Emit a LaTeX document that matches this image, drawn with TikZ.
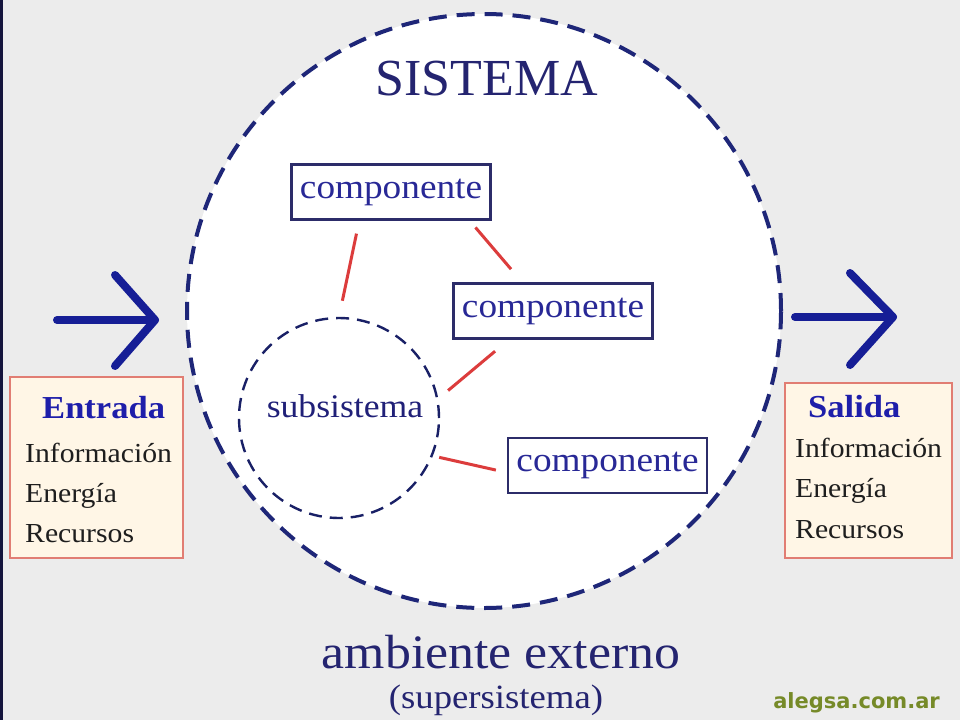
\documentclass[tikz,border=0pt]{standalone}
\usepackage{fontspec}
\setmainfont[FakeStretch=1.08]{Liberation Serif}
\newfontfamily\plainserif{Liberation Serif}
\newfontfamily\wmfont{DejaVu Sans}
\definecolor{bg}{RGB}{236,236,236}
\definecolor{edgecol}{RGB}{20,20,60}
\definecolor{navy}{RGB}{30,38,120}
\definecolor{arrowblue}{RGB}{22,30,150}
\definecolor{titleblue}{RGB}{36,36,112}
\definecolor{compblue}{RGB}{40,40,150}
\definecolor{compedge}{RGB}{44,44,105}
\definecolor{linered}{RGB}{220,60,60}
\definecolor{cream}{RGB}{255,246,230}
\definecolor{salmon}{RGB}{225,125,115}
\definecolor{ioblue}{RGB}{30,30,170}
\definecolor{txtdark}{RGB}{30,30,30}
\definecolor{wmgreen}{RGB}{118,138,40}
\begin{document}
\begin{tikzpicture}[x=1pt,y=-1pt,
  bigcircle/.style={circle,draw=navy,fill=white,line width=4pt,dash pattern=on 18pt off 10pt,minimum size=594pt,inner sep=0pt},
  subcircle/.style={circle,draw=navy!85!black,line width=2.4pt,dash pattern=on 13pt off 8pt,minimum size=200pt,inner sep=0pt},
  compbox/.style={draw=compedge,fill=white,line width=2.2pt,minimum width=199pt,minimum height=55pt,inner sep=0pt,text=compblue,font=\fontsize{34.5}{36}\selectfont},
  iobox/.style={draw=salmon,fill=cream,line width=2.8pt,inner sep=0pt},
  relline/.style={draw=linered,line width=3pt},
  bigarrow/.style={draw=arrowblue,line width=8pt,line cap=round,line join=round},
  iohead/.style={anchor=base west,inner sep=0pt,text=ioblue,font=\fontsize{32}{34}\selectfont\bfseries},
  ioitem/.style={anchor=base west,inner sep=0pt,text=txtdark,font=\fontsize{27.5}{30}\selectfont},
  navytext/.style={inner sep=0pt,text=titleblue}
]
\useasboundingbox (0,0) rectangle (960,720);
\fill[bg] (0,0) rectangle (960,720);
\fill[edgecol] (0,0) rectangle (2.5,720);

% system circle
\node[bigcircle] (sys) at (484,311) {};
\node[navytext,anchor=base,font=\plainserif\fontsize{52}{54}\selectfont] (title) at (487,95) {SISTEMA};

% subsystem
\node[subcircle] (sub) at (339,418) {};
\node[navytext,anchor=base,text=compblue!80!black,font=\fontsize{33}{36}\selectfont] (subtxt) at (345,417) {subsistema};

% components
\node[compbox] (c1) at (391,192) {componente};
\node[compbox] (c2) at (553,311) {componente};
\node[compbox] (c3) at (607.5,465.5) {componente};

% relations
\draw[relline,shorten <=13.3pt,shorten >=16.4pt] (c1.222.1) -- (sub.90);
\draw[relline,shorten <=9pt,shorten >=17.4pt] (c1.340.8) -- (c2.137.5);
\draw[relline,shorten <=18.1pt,shorten >=12.7pt] (c2.213.2) -- (sub.11);
\draw[relline,shorten <=6.5pt,shorten >=11.3pt] (sub.338) -- (c3.184.65);

% input
\coordinate (inS) at (57,320);
\coordinate (inT) at (155,320);
\coordinate (inA) at (115,275);
\coordinate (inB) at (115,366);
\draw[bigarrow] (inS) -- (inT);
\draw[bigarrow] (inA) -- (inT) -- (inB);
\node[iobox,minimum width=173pt,minimum height=181pt] (inbox) at (96.5,467.5) {};
\node[iohead] (inh) at (42,418) {Entrada};
\node[ioitem] (in1) at (25,462) {Información};
\node[ioitem] (in2) at (25,502) {Energía};
\node[ioitem] (in3) at (25,542) {Recursos};

% output
\coordinate (outS) at (795,317);
\coordinate (outT) at (893,317);
\coordinate (outA) at (850,273);
\coordinate (outB) at (850,365);
\draw[bigarrow] (outS) -- (outT);
\draw[bigarrow] (outA) -- (outT) -- (outB);
\node[iobox,minimum width=167pt,minimum height=175pt] (outbox) at (868.5,470.5) {};
\node[iohead] (outh) at (808,417) {Salida};
\node[ioitem] (out1) at (795,457) {Información};
\node[ioitem] (out2) at (795,497) {Energía};
\node[ioitem] (out3) at (795,538) {Recursos};

% environment
\node[navytext,anchor=base,font=\fontsize{48}{50}\selectfont] (amb) at (501,668) {ambiente externo};
\node[navytext,anchor=base,font=\fontsize{34}{36}\selectfont] (sup) at (496,708) {(supersistema)};

% watermark
\node[inner sep=0pt,anchor=base east,text=wmgreen,font=\wmfont\bfseries\fontsize{21}{24}\selectfont] (wm) at (940,708) {alegsa.com.ar};
\end{tikzpicture}
\end{document}
